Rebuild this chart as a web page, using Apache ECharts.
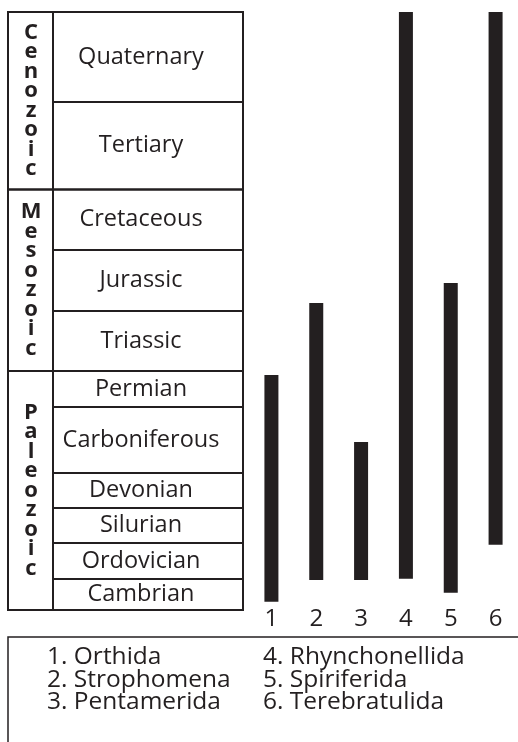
<!DOCTYPE html>
<html><head><meta charset="utf-8">
<script src="https://cdn.jsdelivr.net/npm/echarts/dist/echarts.min.js"></script>
<style>html,body{margin:0;padding:0;background:#fff}#c{width:518px;height:742px}</style>
</head><body><div id="c"></div>
<script>
// ---- data ----
const periods = ['Cambrian','Ordovician','Silurian','Devonian','Carboniferous','Permian','Triassic','Jurassic','Cretaceous','Tertiary','Quaternary'];
const eras = ['Paleozoic','Mesozoic','Cenozoic'];
const eraFirstPeriod = [0, 6, 9];
const eraLastPeriod = [5, 8, 10];
const orderNumbers = ['1','2','3','4','5','6'];
const orderNames = ['Orthida','Strophomena','Pentamerida','Rhynchonellida','Spiriferida','Terebratulida'];
// ranges in period units: integer part = period index (Cambrian = 0), fraction = position inside that period
const rangeStart = [0.27, 0.97, 0.97, 1.01, 0.56, 1.95];
const rangeEnd   = [5.89, 7.13, 4.47, 11.0, 7.46, 11.0];

// ---- layout (table row weights, not data) ----
const rowWeights = [31,36,35,35,66,36,60,61,60.5,87.5,90];
const cum = [0];
rowWeights.forEach((w,i)=>cum.push(cum[i]+w));
const total = cum[cum.length-1];
function toAxis(v){
  const i = Math.min(Math.floor(v), rowWeights.length-1);
  return cum[i] + (v-i)*rowWeights[i];
}
const ink = '#231f20';
const font = "'Open Sans', sans-serif";
const eraColFrac = 45/235;
const periodTextFrac = 133/235;
const eraTextFrac = 23/235;

const chart = echarts.init(document.getElementById('c'), null, {renderer:'canvas'});
const option = {
  animation:false,
  backgroundColor:'#fff',
  grid:[
    {left:8, top:12, width:235, height:total},
    {left:249, top:12, width:280, height:total}
  ],
  xAxis:[
    {gridIndex:0, type:'value', min:0, max:1, show:false},
    {gridIndex:1, type:'category', data:orderNumbers, axisLine:{show:false}, axisTick:{show:false}, splitLine:{show:false},
     axisLabel:{fontFamily:font, fontSize:24, fontWeight:500, color:ink, margin:9, verticalAlign:'middle'}}
  ],
  yAxis:[
    {gridIndex:0, type:'value', min:0, max:total, show:false},
    {gridIndex:1, type:'value', min:0, max:total, show:false}
  ],
  series:[
    {
      type:'custom', xAxisIndex:0, yAxisIndex:0, silent:true,
      data: periods.map((p,i)=>[i]),
      renderItem(params, api){
        const i = api.value(0);
        const tl = api.coord([eraColFrac, cum[i+1]]);
        const br = api.coord([1, cum[i]]);
        const tc = api.coord([periodTextFrac, (cum[i]+cum[i+1])/2]);
        return {type:'group', children:[
          {type:'rect', shape:{x:tl[0], y:tl[1], width:br[0]-tl[0], height:br[1]-tl[1]},
           style:{fill:'none', stroke:ink, lineWidth:2}},
          {type:'text', x:tc[0], y:tc[1],
           style:{text:periods[i], fill:ink, font:`500 23.5px ${font}`, align:'center', verticalAlign:'middle'}}
        ]};
      }
    },
    {
      type:'custom', xAxisIndex:0, yAxisIndex:0, silent:true,
      data: eras.map((e,i)=>[i]),
      renderItem(params, api){
        const i = api.value(0);
        const tl = api.coord([0, cum[eraLastPeriod[i]+1]]);
        const br = api.coord([eraColFrac, cum[eraFirstPeriod[i]]]);
        const tc = api.coord([eraTextFrac, (cum[eraFirstPeriod[i]]+cum[eraLastPeriod[i]+1])/2]);
        return {type:'group', children:[
          {type:'rect', shape:{x:tl[0], y:tl[1], width:br[0]-tl[0], height:br[1]-tl[1]},
           style:{fill:'none', stroke:ink, lineWidth:2}},
          {type:'text', x:tc[0], y:tc[1],
           style:{text:eras[i].split('').join('\n'), fill:ink, font:`bold 22px ${font}`, lineHeight:19.5, align:'center', verticalAlign:'middle'}}
        ]};
      }
    },
    {
      type:'bar', xAxisIndex:1, yAxisIndex:1, stack:'range', silent:true, barWidth:14,
      itemStyle:{color:'transparent'},
      data: rangeStart.map(toAxis)
    },
    {
      type:'bar', xAxisIndex:1, yAxisIndex:1, stack:'range', silent:true, barWidth:14,
      itemStyle:{color:ink},
      data: rangeEnd.map((e,i)=>toAxis(e)-toAxis(rangeStart[i]))
    }
  ],
  graphic:[
    {type:'polyline', shape:{points:[[8,750],[8,637],[520,637]]}, style:{stroke:ink, lineWidth:1.5, fill:null}, silent:true}
  ].concat(orderNames.map((n,i)=>({
    type:'text', left: [47,263][Math.floor(i/3)], top: [645,667.5,690][i%3],
    style:{text:`${orderNumbers[i]}. ${n}`, fill:ink, font:`500 24.5px ${font}`}
  })))
};
chart.setOption(option);
</script>
</body></html>
